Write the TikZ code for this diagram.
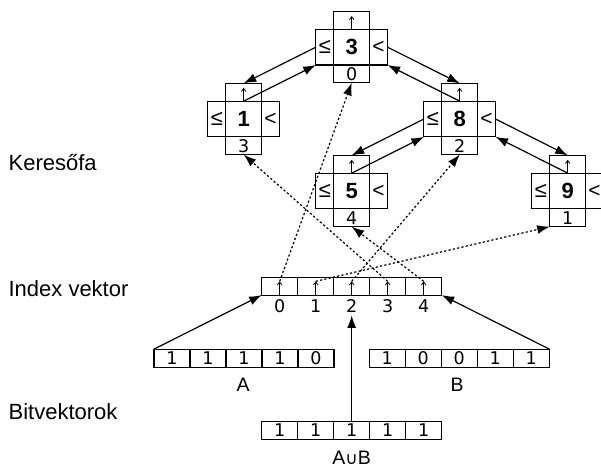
\documentclass[tikz,border=0pt]{standalone}
\usepackage{fontspec}
\setmainfont{Liberation Sans}
\newfontfamily\digitfont{DejaVu Sans}
\usetikzlibrary{arrows.meta}

% one node of the search tree: key in the middle, <= / < pointers at the
% sides, back pointer on top and its position in the index vector below
\newcommand\bstnode[5]{%
  \node[keycell] (#1) at (#2,#3) {#4};
  \node[sidecell, anchor=east] (#1-le) at (#1.west) {\fontsize{22}{22}\selectfont≤};
  \node[sidecell, anchor=west] (#1-lt) at (#1.east) {<};
  \node[cell, anchor=south] (#1-up) at (#1.north) {};
  \node[cell, anchor=north] (#1-ix) at (#1.south) {\raisebox{-1.5pt}{#5}};
  \draw[uparrow] (#1-up.south) -- ([yshift=-4.5pt]#1-up.north);
}

\begin{document}
\begin{tikzpicture}[x=1pt, y=-1pt, line width=1.2pt,
  cell/.style={draw, inner sep=0pt, outer sep=0pt, minimum width=36pt,
    minimum height=17.8pt, font=\digitfont\fontsize{17.5}{17.5}\selectfont},
  bitcell/.style={cell, minimum height=18.2pt},
  keycell/.style={draw, inner sep=0pt, outer sep=0pt, minimum size=35.7pt,
    font=\bfseries\fontsize{22}{22}\selectfont},
  sidecell/.style={draw, inner sep=0pt, outer sep=0pt, minimum width=18pt,
    minimum height=35.7pt, font=\fontsize{21}{21}\selectfont},
  uparrow/.style={line width=0.8pt, -{Straight Barb[length=3pt,width=4.5pt]}},
  ptr/.style={-{Latex[length=12.5pt,width=9pt]}},
  idxptr/.style={ptr, dash pattern=on 2.2pt off 2.2pt},
  numlbl/.style={inner sep=2pt, font=\digitfont\fontsize{17.5}{17.5}\selectfont},
  veclbl/.style={inner sep=0pt, font=\fontsize{19.5}{19.5}\selectfont},
  rowlbl/.style={inner sep=0pt, anchor=base west, font=\fontsize{22}{22}\selectfont}]

\useasboundingbox (0,0) rectangle (601,468);
\clip (0,0) rectangle (601,468);

% row titles
\node[rowlbl] (tKeres) at (8,170.7) {Keresőfa};
\node[rowlbl] (tIndex) at (8,296.7) {Index vektor};
\node[rowlbl] (tBits)  at (8,419.3) {Bitvektorok};

% search tree
\bstnode{n3}{351.7}{47.2}{3}{0}
\bstnode{n1}{243.7}{119}{1}{3}
\bstnode{n8}{459.7}{119}{8}{2}
\bstnode{n5}{351.7}{191}{5}{4}
\bstnode{n9}{567.7}{191}{9}{1}

% parent -> child and child -> parent links
\draw[ptr] (n3-le.west) -- (n1-up.north);
\draw[ptr] (n1-up.south) -- (n3-le.south west);
\draw[ptr] (n3-lt.east) -- (n8-up.north);
\draw[ptr] (n8-up.south) -- (n3-lt.south east);
\draw[ptr] (n8-le.west) -- (n5-up.north);
\draw[ptr] (n5-up.south) -- (n8-le.south west);
\draw[ptr] (n8-lt.east) -- (n9-up.north);
\draw[ptr] (n9-up.south) -- (n8-lt.south east);

% index vector
\foreach \i in {0,...,4} {
  \node[cell] (iv\i) at (279.7+36*\i,286.2) {};
  \draw[uparrow] (iv\i.south) -- ([yshift=-4pt]iv\i.north);
  \node[numlbl] (il\i) at (279.7+36*\i,306.3) {\i};
}

% index vector -> tree nodes
\draw[idxptr] ([yshift=-4pt]iv0.north) -- (n3-ix.south);
\draw[idxptr] ([yshift=-4pt]iv1.north) -- (n9-ix.south west);
\draw[idxptr] ([yshift=-4pt]iv2.north) -- (n8-ix.south);
\draw[idxptr] ([yshift=-4pt]iv3.north) -- (n1-ix.south);
\draw[idxptr] ([yshift=-4pt]iv4.north) -- (n5-ix.south);

% bit vectors
\foreach \b [count=\k from 0] in {1,1,1,1,0}
  \node[bitcell] (a\k) at (172+36*\k,358.2) {\b};
\foreach \b [count=\k from 0] in {1,0,0,1,1}
  \node[bitcell] (b\k) at (387.3+36*\k,358.2) {\b};
\foreach \b [count=\k from 0] in {1,1,1,1,1}
  \node[bitcell] (u\k) at (279.7+36*\k,430.2) {\b};

\node[veclbl] (lA) at (243,385) {A};
\node[veclbl] (lB) at (457,385) {B};
\node[veclbl] (lU) at (351.7,458) {A{\digitfont\fontsize{17}{17}\selectfont∪}B};

\draw[ptr] (a0.north west) -- (iv0.south west);
\draw[ptr] (b4.north east) -- (iv4.south east);
\draw[ptr] (u2.north) -- (il2.south);

\end{tikzpicture}
\end{document}
